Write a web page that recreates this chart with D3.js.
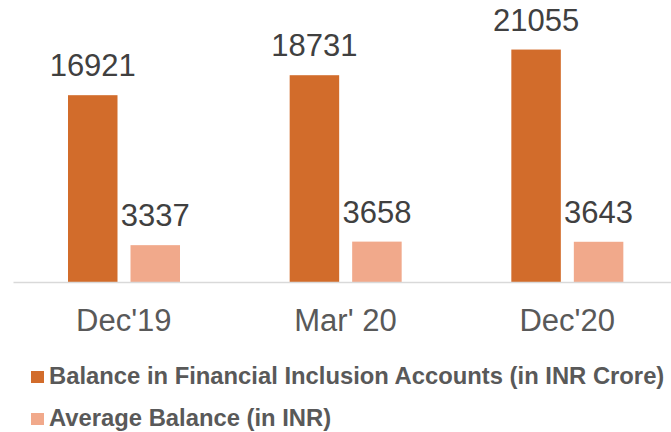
<!DOCTYPE html>
<html>
<head>
<meta charset="utf-8">
<script src="https://cdn.jsdelivr.net/npm/d3@7"></script>
<style>
  body { margin: 0; background: #fff; }
  svg { font-family: Arial, "Liberation Sans", sans-serif; }
</style>
</head>
<body>
<div id="chart"></div>
<script>
// Chart data
var categories = ["Dec'19", "Mar' 20", "Dec'20"];
var seriesNames = ["Balance in Financial Inclusion Accounts (in INR Crore)", "Average Balance (in INR)"];
var balanceValues = [16921, 18731, 21055];
var averageValues = [3337, 3658, 3643];
var seriesColors = ["#D26C2B", "#F1A98B"];

var svgWidth = 671;
var svgHeight = 432;

var svg = d3.select("#chart")
  .append("svg")
  .attr("width", svgWidth)
  .attr("height", svgHeight);

// Build rows for grouped bars
var rows = categories.map(function(c, i) {
  return { cat: c, values: [balanceValues[i], averageValues[i]] };
});

// Scales
var x0 = d3.scaleBand()
  .domain(categories)
  .range([13, 678]);

var x1 = d3.scaleBand()
  .domain([0, 1])
  .range([55, 167])
  .paddingInner(0.208);

var yScale = d3.scaleLinear()
  .domain([0, 25000])
  .range([282, 6]);

// Bars
var groups = svg.selectAll(".group")
  .data(rows)
  .enter()
  .append("g")
  .attr("transform", d => `translate(${x0(d.cat)}, 0)`);

groups.selectAll("rect")
  .data(d => d.values.map((v, k) => ({ k: k, v: v })))
  .enter()
  .append("rect")
  .attr("x", d => x1(d.k))
  .attr("y", d => yScale(d.v))
  .attr("width", x1.bandwidth())
  .attr("height", d => yScale(0) - yScale(d.v))
  .attr("fill", d => seriesColors[d.k]);

// Value labels
groups.selectAll("text")
  .data(d => d.values.map((v, k) => ({ k: k, v: v })))
  .enter()
  .append("text")
  .attr("x", d => x1(d.k) + x1.bandwidth() / 2)
  .attr("y", d => yScale(d.v) - 19)
  .attr("text-anchor", "middle")
  .attr("font-size", "31px")
  .attr("fill", "#404040")
  .text(d => d.v);

// Baseline axis
var xAxis = d3.axisBottom(x0).tickSize(0).tickPadding(27);
var axisG = svg.append("g")
  .attr("transform", `translate(0, ${yScale(0)})`)
  .call(xAxis);
axisG.select(".domain")
  .attr("stroke", "#d9d9d9")
  .attr("stroke-width", 1.5);
axisG.selectAll(".tick text")
  .attr("font-size", "31px")
  .attr("font-family", "Arial, 'Liberation Sans', sans-serif")
  .attr("fill", "#595959")
  .attr("dy", "0.72em");

// Legend
var legend = svg.selectAll(".legend")
  .data(seriesNames)
  .enter()
  .append("g")
  .attr("transform", (d, i) => `translate(31, ${371 + i * 42})`);

legend.append("rect")
  .attr("width", 13)
  .attr("height", 12)
  .attr("fill", (d, i) => seriesColors[i]);

legend.append("text")
  .attr("x", 18)
  .attr("y", 13)
  .attr("font-size", "23.8px")
  .attr("font-weight", "bold")
  .attr("fill", "#595959")
  .text(d => d);
</script>
</body>
</html>
